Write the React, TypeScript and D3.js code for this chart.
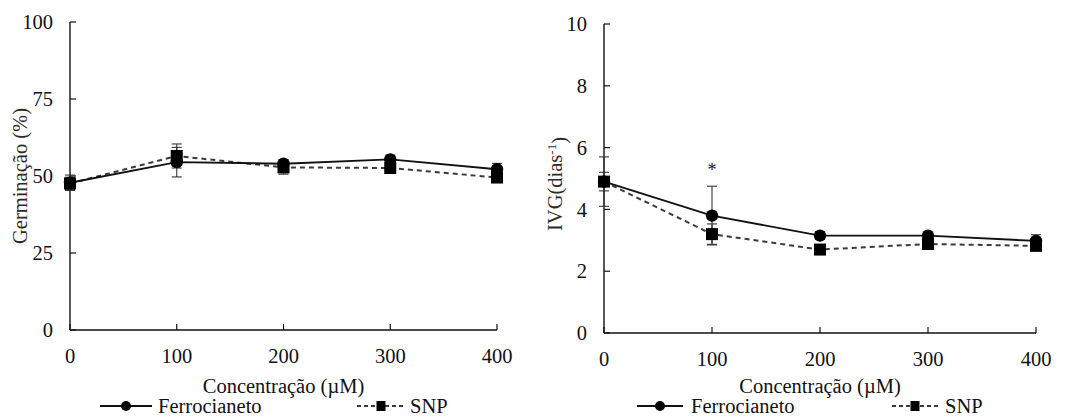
import React from "react";
import * as d3 from "d3";

const concentrations = [0, 100, 200, 300, 400];
const xTicks = [0, 100, 200, 300, 400];

const germFerro = [47.8, 54.5, 54.0, 55.4, 52.2];
const germFerroErr = [2.5, 4.8, 1.3, 1.4, 1.9];
const germSNP = [47.6, 56.5, 52.8, 52.6, 49.5];
const germSNPErr = [2.0, 3.9, 2.2, 1.5, 1.0];
const germTicks = [0, 25, 50, 75, 100];

const ivgFerro = [4.9, 3.8, 3.15, 3.15, 2.98];
const ivgFerroErr = [0.8, 0.95, 0.12, 0.1, 0.2];
const ivgSNP = [4.9, 3.2, 2.7, 2.88, 2.82];
const ivgSNPErr = [0.3, 0.33, 0.08, 0.1, 0.08];
const ivgTicks = [0, 2, 4, 6, 8, 10];
const ivgStars = [{ x: 100, label: "*" }];

const seriesNames = ["Ferrocianeto", "SNP"];

const FONT = "'Liberation Serif', 'Times New Roman', serif";
const FS = 20.5;
const TXT = "#111";
const TITLE = "#33291f";

type PanelProps = {
  x0: number; x1: number; y0: number; y1: number; yMax: number;
  yTicks: number[]; ferro: number[]; ferroErr: number[]; snp: number[]; snpErr: number[];
  yTitle: React.ReactNode; yTitleX: number; yTitleY: number;
  stars?: { x: number; label: string }[];
  legend: { lineA: [number, number]; textA: number; lineB: [number, number]; textB: number };
};

function Panel(p: PanelProps) {
  const x = d3.scaleLinear().domain([0, 400]).range([p.x0, p.x1]);
  const y = d3.scaleLinear().domain([0, p.yMax]).range([p.y0, p.y1]);
  const line = d3.line<number>().x((_, i) => x(concentrations[i])).y((d) => y(d));
  const cap = 5;
  const errBars = (vals: number[], errs: number[], key: string) =>
    vals.map((v, i) => {
      const cx = x(concentrations[i]);
      const top = y(v + errs[i]);
      const bot = y(v - errs[i]);
      return (
        <g key={key + i} stroke="#333" strokeWidth={1.1}>
          <line x1={cx} x2={cx} y1={top} y2={bot} />
          <line x1={cx - cap} x2={cx + cap} y1={top} y2={top} />
          <line x1={cx - cap} x2={cx + cap} y1={bot} y2={bot} />
        </g>
      );
    });
  const legY = 406;
  const L = p.legend;
  return (
    <g>
      <line x1={p.x0} x2={p.x0} y1={p.y1} y2={p.y0} stroke="#111" strokeWidth={1.4} />
      <line x1={p.x0} x2={p.x1} y1={p.y0} y2={p.y0} stroke="#111" strokeWidth={1.4} />
      {p.yTicks.map((t) => (
        <g key={"yt" + t}>
          <line x1={p.x0} x2={p.x0 + 6} y1={y(t)} y2={y(t)} stroke="#111" strokeWidth={1.2} />
          <text x={p.x0 - 17} y={y(t)} dy="0.35em" textAnchor="end" fontFamily={FONT} fontSize={FS} fill={TXT}>
            {t}
          </text>
        </g>
      ))}
      {xTicks.map((t) => (
        <g key={"xt" + t}>
          <line x1={x(t)} x2={x(t)} y1={p.y0} y2={p.y0 - 6} stroke="#111" strokeWidth={1.2} />
          <text x={x(t)} y={p.y0 + 33} textAnchor="middle" fontFamily={FONT} fontSize={FS} fill={TXT}>
            {t}
          </text>
        </g>
      ))}
      <text
        transform={`translate(${p.yTitleX},${p.yTitleY}) rotate(-90)`}
        textAnchor="middle"
        dy="0.35em"
        fontFamily={FONT}
        fontSize={FS}
        fill={TITLE}
      >
        {p.yTitle}
      </text>
      <text x={(p.x0 + p.x1) / 2} y={393} textAnchor="middle" fontFamily={FONT} fontSize={FS} fill={TXT}>
        Concentração (µM)
      </text>
      {errBars(p.ferro, p.ferroErr, "fe")}
      {errBars(p.snp, p.snpErr, "se")}
      <path d={line(p.snp) || ""} fill="none" stroke="#3a3a3a" strokeWidth={2} strokeDasharray="5,4" />
      <path d={line(p.ferro) || ""} fill="none" stroke="#111" strokeWidth={1.9} />
      {p.snp.map((v, i) => (
        <rect key={"sq" + i} x={x(concentrations[i]) - 6} y={y(v) - 6} width={12} height={12} fill="#000" />
      ))}
      {p.ferro.map((v, i) => (
        <circle key={"ci" + i} cx={x(concentrations[i])} cy={y(v)} r={6.2} fill="#000" />
      ))}
      {(p.stars || []).map((s, i) => {
        const idx = concentrations.indexOf(s.x);
        return (
          <text key={"st" + i} x={x(s.x)} y={y(p.ferro[idx] + p.ferroErr[idx]) - 10} textAnchor="middle"
            fontFamily={FONT} fontSize={18} fill={TXT}>
            {s.label}
          </text>
        );
      })}
      <line x1={L.lineA[0]} x2={L.lineA[1]} y1={legY} y2={legY} stroke="#111" strokeWidth={1.8} />
      <circle cx={(L.lineA[0] + L.lineA[1]) / 2} cy={legY} r={5} fill="#000" />
      <text x={L.textA} y={413} fontFamily={FONT} fontSize={FS} fill={TXT}>{seriesNames[0]}</text>
      <line x1={L.lineB[0]} x2={L.lineB[1]} y1={legY} y2={legY} stroke="#3a3a3a" strokeWidth={1.8} strokeDasharray="4,3" />
      <rect x={(L.lineB[0] + L.lineB[1]) / 2 - 4.5} y={legY - 5} width={9} height={10} fill="#000" />
      <text x={L.textB} y={413} fontFamily={FONT} fontSize={FS} fill={TXT}>{seriesNames[1]}</text>
    </g>
  );
}

export default function App() {
  return (
    <svg width={1065} height={416} style={{ display: "block", position: "absolute", left: 0, top: 0, background: "#fff" }}>
      <Panel
        x0={70} x1={497} y0={330} y1={22} yMax={100}
        yTicks={germTicks}
        ferro={germFerro} ferroErr={germFerroErr} snp={germSNP} snpErr={germSNPErr}
        yTitle="Germinação (%)" yTitleX={20} yTitleY={176}
        legend={{ lineA: [100, 152], textA: 158, lineB: [357, 405], textB: 410 }}
      />
      <Panel
        x0={604} x1={1036} y0={333} y1={24} yMax={10}
        yTicks={ivgTicks}
        ferro={ivgFerro} ferroErr={ivgFerroErr} snp={ivgSNP} snpErr={ivgSNPErr}
        yTitle={<>IVG(dias<tspan dy="-0.45em" fontSize={13}>-1</tspan><tspan dy="0.45em">)</tspan></>}
        yTitleX={555} yTitleY={184}
        stars={ivgStars}
        legend={{ lineA: [637, 683], textA: 691, lineB: [892, 938], textB: 945 }}
      />
    </svg>
  );
}
